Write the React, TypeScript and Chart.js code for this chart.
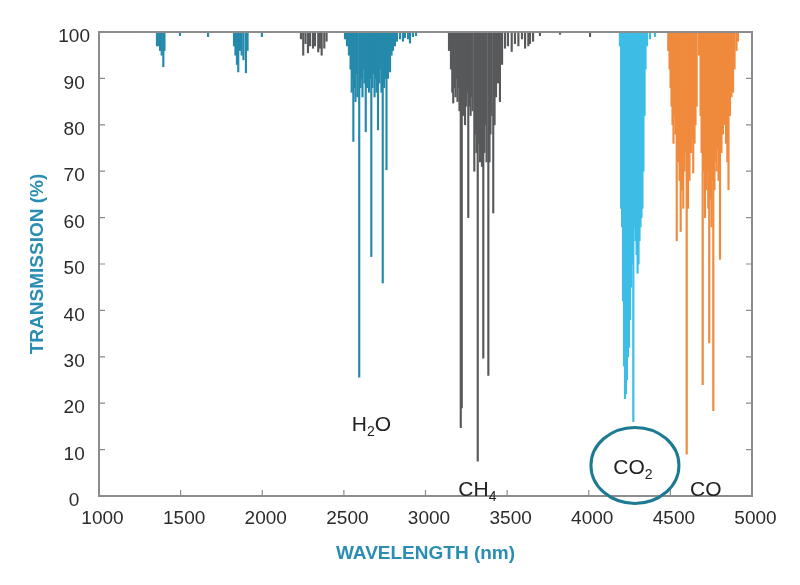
import { useEffect, useRef } from "react"
import { Chart, registerables } from "chart.js"

Chart.register(...registerables)

// wavelength (nm) of each absorption line, and the lowest transmission (%) it reaches
const h2oNm = [
  1355, 1363, 1374, 1384, 1394, 1401, 1496, 1668, 1827, 1836, 1845, 1853, 1864, 1874, 1885, 1900, 1910, 1998,
  2507, 2519, 2531, 2541, 2548, 2553, 2558, 2565, 2571, 2577, 2583, 2594, 2602, 2608, 2614, 2620, 2626, 2634,
  2642, 2648, 2654, 2660, 2668, 2675, 2681, 2688, 2694, 2700, 2709, 2718, 2724, 2730, 2738, 2746, 2752, 2761,
  2770, 2776, 2783, 2792, 2801, 2813, 2825, 2844, 2862, 2874, 2893, 2905, 2923, 2942,
]
const h2oMin = [
  97, 97, 96, 95, 92.5, 96, 99.2, 99, 97, 95, 93, 91.4, 96, 95, 94, 91.2, 96, 99,
  98.5, 97, 95, 92, 87, 90, 76.4, 88, 85, 91, 86, 25.6, 88, 90, 86, 92, 89, 78.5,
  88, 92, 87, 90, 51.6, 88, 91, 86, 90, 87, 78.9, 89, 92, 87, 45.9, 88, 90, 70.3,
  90, 93, 91.4, 95, 96, 97, 98, 98.5, 98, 98.8, 98.5, 97.6, 99, 99.2,
]

const ch4Nm = [
  2237, 2251, 2265, 2280, 2293, 2311, 2323, 2343, 2354, 2364, 2380, 2394,
  3144, 3156, 3164, 3170, 3178, 3184, 3190, 3196, 3202, 3208, 3216, 3222, 3230, 3236, 3242, 3248, 3254, 3262,
  3270, 3276, 3282, 3288, 3299, 3306, 3312, 3320, 3328, 3334, 3340, 3346, 3354, 3361, 3368, 3374, 3385, 3392,
  3398, 3404, 3415, 3423, 3432, 3444, 3456, 3469, 3487, 3505, 3528, 3548, 3569, 3591, 3610, 3630, 3640, 3659,
  3701, 3824, 4008,
]
const ch4Min = [
  98.5, 95, 97.5, 95.5, 97, 96.5, 97, 95.7, 96.5, 95, 96.5, 98,
  96, 92, 87, 84.7, 88, 86, 90, 85, 88, 83, 14.7, 19, 82, 86, 80, 84, 87, 60,
  84, 82, 86, 83, 70, 78, 74, 7.5, 76, 72, 78, 71, 29.7, 74, 80, 72, 26, 72,
  78, 82, 61, 80, 86, 89, 85, 93, 96.5, 97, 95.8, 97.5, 97, 98.5, 96.5, 97, 97.5, 98,
  99.2, 99.5, 99,
]

const co2Nm = [
  4191, 4198, 4204, 4210, 4216, 4222, 4228, 4234, 4240, 4247, 4253, 4259, 4265, 4273, 4280,
  4286, 4293, 4299, 4305, 4311, 4317, 4323, 4329, 4335, 4342, 4348, 4357, 4375, 4406,
]
const co2Min = [
  97, 62, 58, 42, 28, 21, 22, 25, 30, 32, 38, 45, 50, 16, 58,
  55, 52, 48, 50, 55, 58, 60, 62, 70, 82, 92, 97, 98.5, 99,
]

const coNm = [
  4487, 4495, 4501, 4507, 4513, 4519, 4525, 4531, 4539, 4547, 4556, 4563, 4571, 4579, 4587, 4593, 4600, 4608,
  4617, 4626, 4633, 4640, 4648, 4654, 4661, 4675, 4685, 4691, 4698, 4706, 4712, 4721, 4727, 4732, 4738, 4746,
  4752, 4757, 4763, 4770, 4776, 4783, 4789, 4795, 4804, 4813, 4822, 4832, 4841, 4849, 4856, 4865, 4874, 4884,
  4893, 4905, 4914,
]
const coMin = [
  96, 92, 88, 84, 80, 76, 82, 78, 55, 72, 68, 57, 66, 62, 70, 74, 9, 62,
  68, 74, 77, 69.6, 76, 80, 84, 95, 82, 74, 24, 70, 60, 66, 70, 62, 33, 64,
  58, 68, 18.4, 66, 72, 70, 75, 68, 51, 74, 78, 80, 76, 72, 66, 82, 86, 87,
  92, 96, 98,
]

const xTicks = [1000, 1500, 2000, 2500, 3000, 3500, 4000, 4500, 5000]
const yTicks = [0, 10, 20, 30, 40, 50, 60, 70, 80, 90, 100]

// gas labels: main text, subscript, text after the subscript, anchor (nm, %)
const labelMain = ["H", "CH", "CO", "CO"]
const labelSub = ["2", "4", "2", ""]
const labelTail = ["O", "", "", ""]
const labelNm = [2548, 3201, 4150, 4620]
const labelPct = [14, 0, 4.8, 0]

// circle around CO2
const ringNm = 4283
const ringPct = 6.6

const FONT = "'Liberation Sans', Arial, sans-serif"

const lines = (nm: number[], min: number[]) => nm.map((x, i) => ({ x, y: [min[i], 100] }))

const framePlugin = {
  id: "frame",
  afterDraw(chart: any) {
    const { ctx, chartArea: a, scales } = chart
    const x = scales.x
    const y = scales.y
    ctx.save()

    // inward tick marks
    ctx.strokeStyle = "#8c8c8c"
    ctx.lineWidth = 1.2
    ctx.beginPath()
    x.ticks.forEach((t: any) => {
      const px = x.getPixelForValue(t.value)
      ctx.moveTo(px, a.bottom)
      ctx.lineTo(px, a.bottom - 6)
    })
    y.ticks.forEach((t: any) => {
      const py = y.getPixelForValue(t.value)
      ctx.moveTo(a.left, py)
      ctx.lineTo(a.left + 6, py)
      ctx.moveTo(a.right, py)
      ctx.lineTo(a.right - 6, py)
    })
    ctx.stroke()

    // box
    ctx.lineWidth = 2
    ctx.strokeRect(a.left, a.top, a.right - a.left, a.bottom - a.top)

    // gas names
    ctx.fillStyle = "#222"
    ctx.textBaseline = "alphabetic"
    ctx.textAlign = "left"
    labelMain.forEach((m, i) => {
      let px = x.getPixelForValue(labelNm[i])
      const py = y.getPixelForValue(labelPct[i])
      ctx.font = `21px ${FONT}`
      ctx.fillText(m, px, py)
      px += ctx.measureText(m).width
      if (labelSub[i]) {
        ctx.font = `14px ${FONT}`
        ctx.fillText(labelSub[i], px, py + 5)
        px += ctx.measureText(labelSub[i]).width
      }
      if (labelTail[i]) {
        ctx.font = `21px ${FONT}`
        ctx.fillText(labelTail[i], px, py)
      }
    })

    ctx.strokeStyle = "#1d7a93"
    ctx.lineWidth = 3
    ctx.beginPath()
    ctx.ellipse(x.getPixelForValue(ringNm), y.getPixelForValue(ringPct), 44, 38, 0, 0, Math.PI * 2)
    ctx.stroke()

    ctx.restore()
  },
}

export default function App() {
  const chartRef = useRef<HTMLCanvasElement>(null)
  const chartInstance = useRef<Chart | null>(null)

  useEffect(() => {
    document.body.style.margin = "0"
    if (!chartRef.current) return
    const ctx = chartRef.current.getContext("2d")
    if (!ctx) return

    if (chartInstance.current) {
      chartInstance.current.destroy()
    }

    const bar = { barThickness: 1.5, grouped: false, borderWidth: 0, borderSkipped: false }

    chartInstance.current = new Chart(ctx, {
      type: "bar",
      data: {
        datasets: [
          { label: "H2O", data: lines(h2oNm, h2oMin), backgroundColor: "#2589ab", ...bar },
          { label: "CH4", data: lines(ch4Nm, ch4Min), backgroundColor: "#58595b", ...bar },
          { label: "CO2", data: lines(co2Nm, co2Min), backgroundColor: "#3cbde6", ...bar },
          { label: "CO", data: lines(coNm, coMin), backgroundColor: "#f08a3c", ...bar },
        ] as any,
      },
      options: {
        animation: false,
        responsive: true,
        maintainAspectRatio: false,
        layout: { padding: { top: 32, right: 48, left: 0, bottom: 0 } },
        plugins: {
          legend: { display: false },
          tooltip: { enabled: false },
        },
        scales: {
          x: {
            type: "linear",
            min: 1000,
            max: 5000,
            offset: false,
            grid: { display: false, drawTicks: false, offset: false },
            border: { display: false },
            afterBuildTicks: (scale: any) => {
              scale.ticks = xTicks.map((value) => ({ value }))
            },
            afterFit: (scale: any) => {
              scale.height = 89
            },
            ticks: {
              color: "#2b2b2b",
              font: { family: FONT, size: 19 },
              padding: 11,
              labelOffset: 3.5,
              maxRotation: 0,
              autoSkip: false,
              callback: (v: any) => String(v),
            },
            title: {
              display: true,
              text: "WAVELENGTH (nm)",
              color: "#2a8db3",
              font: { family: FONT, size: 19, weight: "bold" },
              padding: { top: 0, bottom: 20 },
            },
          },
          y: {
            min: 0,
            max: 100,
            grid: { display: false, drawTicks: false },
            border: { display: false },
            afterBuildTicks: (scale: any) => {
              scale.ticks = yTicks.map((value) => ({ value }))
            },
            afterFit: (scale: any) => {
              scale.width = 99
            },
            ticks: {
              color: "#2b2b2b",
              font: { family: FONT, size: 19 },
              padding: 9,
              labelOffset: 5,
              crossAlign: "center",
              callback: (v: any) => String(v),
            },
            title: {
              display: true,
              text: "TRANSMISSION (%)",
              color: "#2a8db3",
              font: { family: FONT, size: 19, weight: "bold" },
              padding: { top: 26, bottom: 0 },
            },
          },
        },
      },
      plugins: [framePlugin],
    })

    return () => {
      if (chartInstance.current) {
        chartInstance.current.destroy()
        chartInstance.current = null
      }
    }
  }, [])

  return (
    <div style={{ width: 800, height: 585, position: "relative", background: "#fff" }}>
      <canvas ref={chartRef} />
    </div>
  )
}
